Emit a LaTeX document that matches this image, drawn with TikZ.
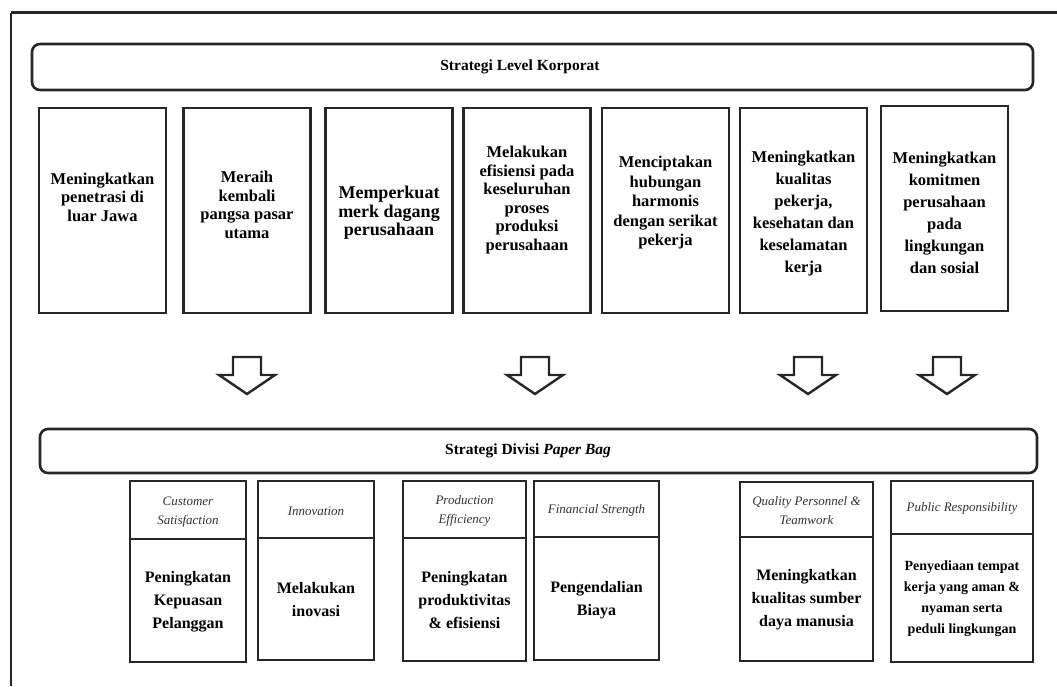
\documentclass[tikz,border=0pt]{standalone}
\usepackage{fontspec}
\setmainfont{Liberation Serif}
\begin{document}
\begin{tikzpicture}[x=1pt,y=-1pt,
  frameline/.style={draw=black!85, line width=3pt},
  band/.style={draw=black!85, line width=2.6pt, rounded corners=8pt, fill=white, inner sep=0pt},
  corpbox/.style={draw=black!85, line width=2.5pt, fill=white, minimum width=127pt, minimum height=205pt, inner sep=0pt},
  ctext/.style={align=center, inner sep=0pt, font=\fontsize{16.5}{18.5}\selectfont\bfseries},
  divbox/.style={draw=black!85, line width=2.8pt, fill=white, inner sep=0pt},
  htext/.style={align=center, inner sep=0pt, text=black!80, font=\fontsize{13}{19}\selectfont\itshape},
  btext/.style={align=center, inner sep=0pt, font=\fontsize{16}{23}\selectfont\bfseries},
  blockarrow/.style={draw=black!85, line width=2.4pt, fill=white, line join=miter},
  pics/downarrow/.style={code={\draw[blockarrow] (-14,0) -- (14,0) -- (14,18) -- (28,18) -- (0,37) -- (-28,18) -- (-14,18) -- cycle;}}
]
\useasboundingbox (0,0) rectangle (1057,686);

% outer frame
\coordinate (fTL) at (11,12.5);
\coordinate (fTR) at (1057,12.5);
\coordinate (fBL) at (11,686);
\draw[frameline] (fTR) -- (fTL);
\draw[draw=black!85, line width=2pt] (fTL) -- (fBL);

% corporate level band
\node[band, minimum width=1001pt, minimum height=46pt] (top) at (532.5,67) {};
\node[inner sep=0pt, font=\fontsize{15.5}{17}\selectfont\bfseries] (toptext) at (520,67) {Strategi Level Korporat};

% corporate boxes
\node[corpbox] (c1box) at (102.5,210.5) {};
\node[corpbox] (c2box) at (247,210.5) {};
\node[corpbox] (c3box) at (389,210.5) {};
\node[corpbox] (c4box) at (527,210.5) {};
\node[corpbox] (c5box) at (665.5,210.5) {};
\node[corpbox] (c6box) at (803.5,210.5) {};
\node[corpbox] (c7box) at (944.5,208.5) {};

\node[ctext] (c1) at (102.5,197) {Meningkatkan\\penetrasi di\\luar Jawa};
\node[ctext] (c2) at (247,205) {Meraih\\kembali\\pangsa pasar\\utama};
\node[ctext, font=\fontsize{18}{18.5}\selectfont\bfseries] (c3) at (389,213) {Memperkuat\\merk dagang\\perusahaan};
\node[ctext] (c4) at (527,200) {Melakukan\\efisiensi pada\\keseluruhan\\proses\\produksi\\perusahaan};
\node[ctext, font=\fontsize{16.5}{19.5}\selectfont\bfseries] (c5) at (665.5,203) {Menciptakan\\hubungan\\harmonis\\dengan serikat\\pekerja};
\node[ctext, font=\fontsize{16.5}{22}\selectfont\bfseries] (c6) at (803.5,214) {Meningkatkan\\kualitas\\pekerja,\\kesehatan dan\\keselamatan\\kerja};
\node[ctext, font=\fontsize{16.5}{22}\selectfont\bfseries] (c7) at (944.5,213) {Meningkatkan\\komitmen\\perusahaan\\pada\\lingkungan\\dan sosial};

% block arrows
\coordinate (a1) at (247,357);
\coordinate (a2) at (535,357);
\coordinate (a3) at (808,357);
\coordinate (a4) at (947,357);
\pic at (a1) {downarrow};
\pic at (a2) {downarrow};
\pic at (a3) {downarrow};
\pic at (a4) {downarrow};

% division band
\node[band, minimum width=997pt, minimum height=44pt] (div) at (538.5,451) {};
\node[inner sep=0pt, font=\fontsize{15.5}{17}\selectfont\bfseries] (divtext) at (528,451) {Strategi Divisi \textit{Paper Bag}};

% division boxes: headers
\node[divbox, minimum width=116pt, minimum height=58pt] (hA) at (188,510) {};
\node[divbox, minimum width=116pt, minimum height=57pt] (hB) at (316,509.5) {};
\node[divbox, minimum width=123pt, minimum height=57pt] (hC) at (464.5,509.5) {};
\node[divbox, minimum width=125pt, minimum height=56pt] (hD) at (596.5,509) {};
\node[divbox, minimum width=133pt, minimum height=55pt] (hE) at (806.5,509.5) {};
\node[divbox, minimum width=142pt, minimum height=53pt] (hF) at (962,507.5) {};
% bodies
\node[divbox, minimum width=116pt, minimum height=123pt] (bA) at (188,600.5) {};
\node[divbox, minimum width=116pt, minimum height=122pt] (bB) at (316,599) {};
\node[divbox, minimum width=123pt, minimum height=123pt] (bC) at (464.5,599.5) {};
\node[divbox, minimum width=125pt, minimum height=123pt] (bD) at (596.5,598.5) {};
\node[divbox, minimum width=133pt, minimum height=124pt] (bE) at (806.5,599) {};
\node[divbox, minimum width=142pt, minimum height=128pt] (bF) at (962,598) {};

\node[htext] (tA) at (188,512) {Customer\\Satisfaction};
\node[htext] (tB) at (316,511) {Innovation};
\node[htext] (tC) at (464.5,511) {Production\\Efficiency};
\node[htext] (tD) at (596.5,510) {Financial Strength};
\node[htext] (tE) at (806.5,511) {Quality Personnel \&\\Teamwork};
\node[htext] (tF) at (962,508) {Public Responsibility};

\node[btext] (sA) at (188,602) {Peningkatan\\Kepuasan\\Pelanggan};
\node[btext] (sB) at (316,600) {Melakukan\\inovasi};
\node[btext] (sC) at (464.5,600) {Peningkatan\\produktivitas\\\& efisiensi};
\node[btext] (sD) at (596.5,600) {Pengendalian\\Biaya};
\node[btext] (sE) at (806.5,600) {Meningkatkan\\kualitas sumber\\daya manusia};
\node[btext, font=\fontsize{14}{21}\selectfont\bfseries] (sF) at (962,599) {Penyediaan tempat\\kerja yang aman \&\\nyaman serta\\peduli lingkungan};
\end{tikzpicture}
\end{document}
